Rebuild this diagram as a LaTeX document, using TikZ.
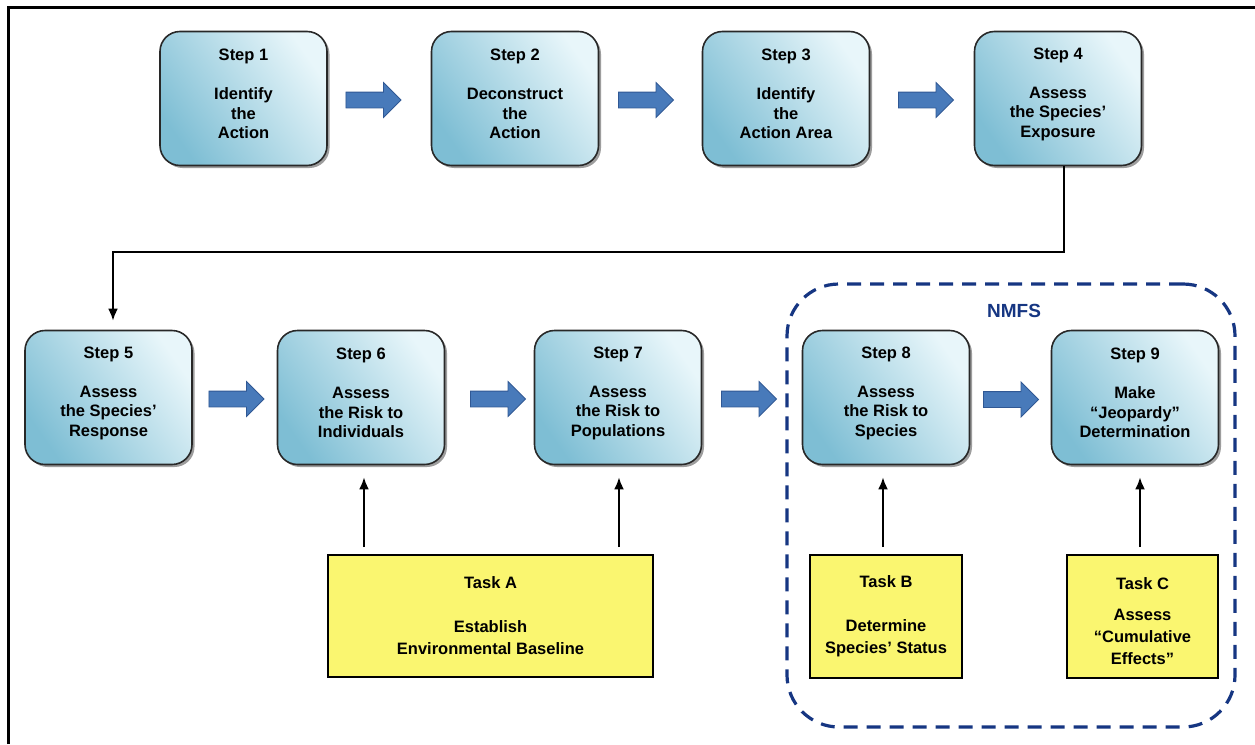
\documentclass[tikz,border=0pt]{standalone}
\usepackage{fontspec}
\setmainfont{Liberation Sans}
\usetikzlibrary{shapes.arrows,shadows,arrows.meta,calc}
\definecolor{boxedge}{RGB}{40,40,40}
\definecolor{bluetop}{RGB}{232,246,250}
\definecolor{bluemid}{RGB}{200,230,240}
\definecolor{bluebot}{RGB}{126,190,212}
\definecolor{arrowfill}{RGB}{72,122,186}
\definecolor{arrowedge}{RGB}{48,88,148}
\definecolor{taskyellow}{RGB}{250,246,112}
\definecolor{navy}{RGB}{22,54,130}
\begin{document}
\begin{tikzpicture}[x=1pt,y=-1pt,
  txt/.style={font=\fontsize{16.5}{19.5}\selectfont\bfseries, align=center, text=black},
  stepbox/.style={draw=boxedge, line width=1.6pt, rounded corners=20pt,
    minimum width=167pt, minimum height=134pt, inner sep=0pt,
    shading=axis, top color=bluetop, middle color=bluemid, bottom color=bluebot, shading angle=-55,
    drop shadow={shadow xshift=2.5pt, shadow yshift=-2.5pt, opacity=0.55, fill=black!70}},
  steplbl/.style={txt, yshift=4.5pt},
  taskbox/.style={draw=black, line width=1.6pt, fill=taskyellow, inner sep=0pt},
  tasklbl/.style={font=\fontsize{16.5}{22}\selectfont\bfseries, align=center, text=black},
  blockarrow/.style={single arrow, draw=arrowedge, fill=arrowfill, line width=0.8pt,
    minimum height=55pt, inner xsep=0pt, inner ysep=7.5pt, single arrow head extend=9.5pt,
    single arrow head indent=0pt},
  conn/.style={draw=black, line width=2.2pt, -{Latex[length=12pt,width=10pt]}},
  nmfsbox/.style={draw=navy, line width=3.2pt, rounded corners=52pt, dash pattern=on 14pt off 9pt,
    minimum width=448pt, minimum height=443pt}
]
\useasboundingbox (0,0) rectangle (1255,744);
% frame
\draw[line width=3pt] (8.5,744) -- (8.5,7.5) -- (1255,7.5);

% NMFS container
\node[nmfsbox] (nmfs) at (1011,505.5) {};
\node[font=\fontsize{19}{22}\selectfont\bfseries, text=navy] (nmfslbl) at (1014,311) {NMFS};

% row 1
\node[stepbox, label={[steplbl]center:{Step 1\\[19.5pt]Identify\\the\\Action}}] (s1) at (243.5,98.5) {};
\node[stepbox, label={[steplbl]center:{Step 2\\[19.5pt]Deconstruct\\the\\Action}}] (s2) at (515,98.5) {};
\node[stepbox, label={[steplbl]center:{Step 3\\[19.5pt]Identify\\the\\Action Area}}] (s3) at (786,98.5) {};
\node[stepbox, label={[steplbl]center:{Step 4\\[19.5pt]Assess\\the Species’\\Exposure}}] (s4) at (1058,98.5) {};

% row 2
\node[stepbox, label={[steplbl]center:{Step 5\\[19.5pt]Assess\\the Species’\\Response}}] (s5) at (108.5,397.5) {};
\node[stepbox, label={[steplbl]center:{Step 6\\[19.5pt]Assess\\the Risk to\\Individuals}}] (s6) at (361,397.5) {};
\node[stepbox, label={[steplbl]center:{Step 7\\[19.5pt]Assess\\the Risk to\\Populations}}] (s7) at (618,397.5) {};
\node[stepbox, label={[steplbl]center:{Step 8\\[19.5pt]Assess\\the Risk to\\Species}}] (s8) at (886,397.5) {};
\node[stepbox, label={[steplbl]center:{Step 9\\[19.5pt]Make\\“Jeopardy”\\Determination}}] (s9) at (1135,397.5) {};

% block arrows
\node[blockarrow] (a12) at (369.5,100) {};
\node[blockarrow] (a23) at (642,100) {};
\node[blockarrow] (a34) at (922,100) {};
\node[blockarrow] (a56) at (232.5,399) {};
\node[blockarrow] (a67) at (494,399) {};
\node[blockarrow] (a78) at (745,399) {};
\node[blockarrow] (a89) at (1007,399.5) {};

% tasks
\node[taskbox, minimum width=325pt, minimum height=122pt,
  label={[tasklbl]center:{Task A\\[22pt]Establish\\Environmental Baseline}}] (tA) at (490.5,616) {};
\node[taskbox, minimum width=152pt, minimum height=123pt,
  label={[tasklbl]center:{Task B\\[22pt]Determine\\Species’ Status}}] (tB) at (886,616.5) {};
\node[taskbox, minimum width=151pt, minimum height=123pt,
  label={[tasklbl, yshift=-4.5pt]center:{Task C\\[9pt]Assess\\“Cumulative\\Effects”}}] (tC) at (1142.5,616.5) {};

% connectors
\draw[conn] ([xshift=6pt]s4.south) -- ++(0,86) -| ([xshift=4.5pt,yshift=9pt]s5.north);
\draw[conn] ([xshift=3pt,yshift=7pt]tA.north -| s6.south) -- ([xshift=3pt,yshift=-12pt]s6.south);
\draw[conn] ([xshift=1pt,yshift=7pt]tA.north -| s7.south) -- ([xshift=1pt,yshift=-12pt]s7.south);
\draw[conn] ([xshift=-3pt,yshift=7pt]tB.north -| s8.south) -- ([xshift=-3pt,yshift=-12pt]s8.south);
\draw[conn] ([xshift=5pt,yshift=7pt]tC.north -| s9.south) -- ([xshift=5pt,yshift=-12pt]s9.south);
\end{tikzpicture}
\end{document}
